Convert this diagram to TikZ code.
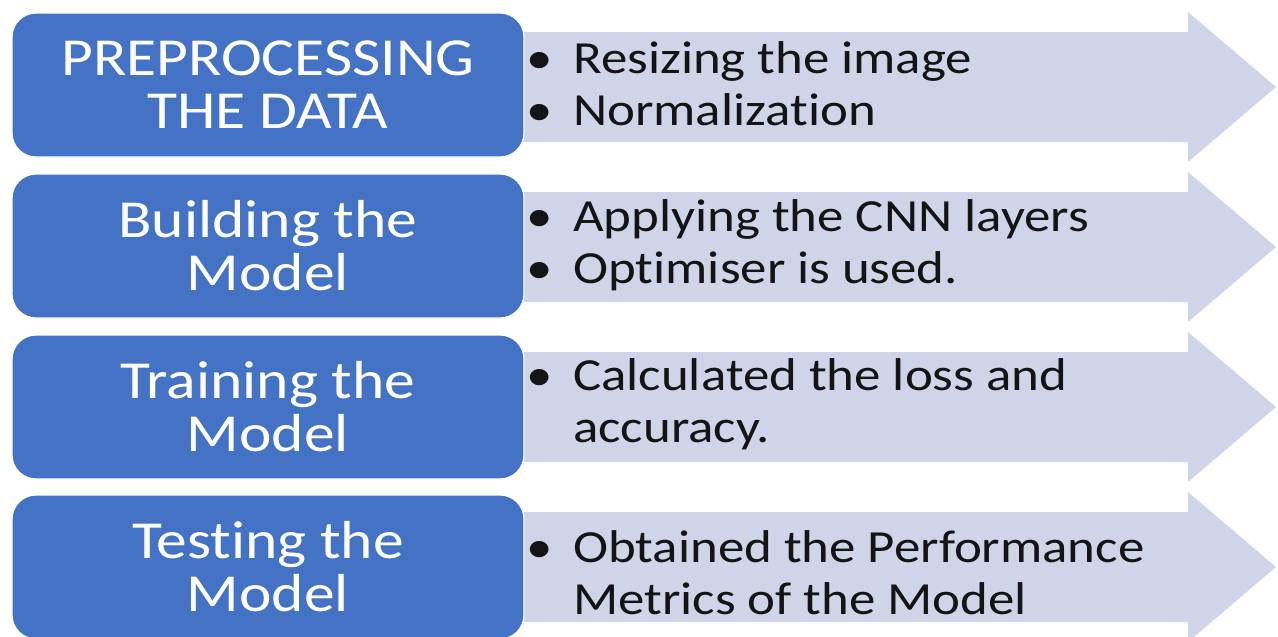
\documentclass[tikz,border=0pt]{standalone}
\usepackage{fontspec}
\setmainfont{Carlito}[FakeStretch=1.15,Ligatures={NoCommon}]
\definecolor{boxblue}{RGB}{68,114,196}
\definecolor{arrowfill}{RGB}{208,212,232}
\definecolor{txt}{RGB}{20,20,20}
\begin{document}
\begin{tikzpicture}[x=1pt,y=-1pt,
  stepbox/.style={rectangle, rounded corners=24pt, fill=boxblue, draw=white, line width=1.2pt,
    minimum width=512pt, minimum height=144pt, text=white, align=center,
    font=\fontsize{53.5}{53}\selectfont, inner sep=0pt},
  bullettext/.style={anchor=west, align=left, text=txt, font=\fontsize{46}{52}\selectfont, inner sep=0pt}]
\useasboundingbox (0,0) rectangle (1278,637);
\foreach \c in {87,247,407,567} {
  \fill[arrowfill] (500,\c-55) -- (1188,\c-55) -- (1188,\c-75) -- (1276,\c)
    -- (1188,\c+75) -- (1188,\c+55) -- (500,\c+55) -- cycle;
}
\node[stepbox] (b1) at (268,85) {PREPROCESSING\\THE DATA};
\node[stepbox] (b2) at (268,246) {Building the\\Model};
\node[stepbox] (b3) at (268,407) {Training the\\Model};
\node[stepbox] (b4) at (268,567) {Testing the\\Model};
\node[bullettext] (t1) at (526,84) {\makebox[47pt][l]{\textbullet}Resizing the image\\\makebox[47pt][l]{\textbullet}Normalization};
\node[bullettext] (t2) at (526,245) {\makebox[47pt][l]{\textbullet}Applying the CNN layers\\\makebox[47pt][l]{\textbullet}Optimiser is used.};
\node[bullettext] (t3) at (526,404) {\makebox[47pt][l]{\textbullet}Calculated the loss and\\\hspace*{47pt}accuracy.};
\node[bullettext] (t4) at (526,573) {\makebox[47pt][l]{\textbullet}Obtained the Performance\\\hspace*{47pt}Metrics of the Model};
\end{tikzpicture}
\end{document}
